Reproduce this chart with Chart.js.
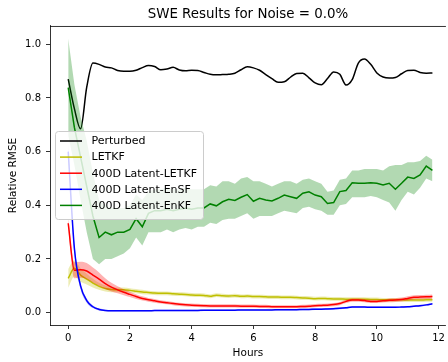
<!DOCTYPE html>
<html>
<head>
<meta charset="utf-8">
<script src="https://cdn.jsdelivr.net/npm/chart.js@4.4.1/dist/chart.umd.min.js"></script>
<style>
  html, body { margin: 0; padding: 0; background: #fff; overflow: hidden; }
  #wrap { width: 448px; height: 362px; }
</style>
</head>
<body>
<div id="wrap"><canvas id="chart"></canvas></div>
<script>
// time axis, one point every 0.2 hours
const hours = [0, 0.2, 0.4, 0.6, 0.8, 1, 1.2, 1.4, 1.6, 1.8,
  2, 2.2, 2.4, 2.6, 2.8, 3, 3.2, 3.4, 3.6, 3.8,
  4, 4.2, 4.4, 4.6, 4.8, 5, 5.2, 5.4, 5.6, 5.8,
  6, 6.2, 6.4, 6.6, 6.8, 7, 7.2, 7.4, 7.6, 7.8,
  8, 8.2, 8.4, 8.6, 8.8, 9, 9.2, 9.4, 9.6, 9.8,
  10, 10.2, 10.4, 10.6, 10.8, 11, 11.2, 11.4, 11.6, 11.8];

const xTicks = [0, 2, 4, 6, 8, 10, 12];
const yTicks = [0, 0.2, 0.4, 0.6, 0.8, 1.0];

const perturbed = [0.87, 0.76, 0.685, 0.84, 0.93, 0.925, 0.915, 0.912, 0.902, 0.899,
  0.899, 0.903, 0.913, 0.921, 0.917, 0.905, 0.908, 0.914, 0.904, 0.901,
  0.903, 0.902, 0.895, 0.888, 0.886, 0.887, 0.888, 0.892, 0.905, 0.916,
  0.912, 0.903, 0.887, 0.872, 0.858, 0.86, 0.877, 0.891, 0.892, 0.875,
  0.856, 0.849, 0.872, 0.897, 0.888, 0.848, 0.868, 0.93, 0.945, 0.925,
  0.893, 0.878, 0.874, 0.876, 0.89, 0.902, 0.903, 0.895, 0.892, 0.893];

const letkf = [0.128, 0.165, 0.14, 0.125, 0.11, 0.098, 0.09, 0.086, 0.085, 0.085,
  0.083, 0.08, 0.077, 0.075, 0.073, 0.072, 0.072, 0.07, 0.069, 0.068,
  0.066, 0.065, 0.064, 0.061, 0.065, 0.063, 0.062, 0.063, 0.061, 0.062,
  0.06, 0.06, 0.059, 0.058, 0.058, 0.057, 0.057, 0.056, 0.055, 0.054,
  0.052, 0.053, 0.052, 0.051, 0.051, 0.05, 0.05, 0.05, 0.05, 0.049,
  0.049, 0.048, 0.048, 0.048, 0.048, 0.047, 0.047, 0.047, 0.048, 0.048];
const letkfSpread = [0.035, 0.03, 0.025, 0.02, 0.016, 0.013, 0.011, 0.01, 0.009, 0.009,
  0.008, 0.008, 0.008, 0.007, 0.007, 0.007, 0.007, 0.007, 0.007, 0.007,
  0.007, 0.007, 0.007, 0.007, 0.007, 0.007, 0.007, 0.007, 0.007, 0.007,
  0.007, 0.007, 0.007, 0.007, 0.007, 0.007, 0.007, 0.007, 0.007, 0.007,
  0.007, 0.007, 0.007, 0.007, 0.007, 0.007, 0.007, 0.007, 0.007, 0.007,
  0.007, 0.007, 0.007, 0.007, 0.007, 0.007, 0.007, 0.007, 0.007, 0.007];

const latentLetkf = [0.333, 0.158, 0.16, 0.155, 0.14, 0.125, 0.108, 0.095, 0.085, 0.076,
  0.068, 0.06, 0.053, 0.048, 0.044, 0.04, 0.037, 0.034, 0.031, 0.029,
  0.028, 0.027, 0.026, 0.025, 0.025, 0.025, 0.025, 0.025, 0.024, 0.024,
  0.024, 0.023, 0.023, 0.022, 0.022, 0.022, 0.022, 0.022, 0.023, 0.024,
  0.026, 0.027, 0.028, 0.03, 0.034, 0.042, 0.047, 0.047, 0.045, 0.042,
  0.042, 0.044, 0.046, 0.047, 0.049, 0.053, 0.057, 0.058, 0.059, 0.06];
const latentLetkfSpread = [0.02, 0.03, 0.03, 0.03, 0.028, 0.025, 0.02, 0.016, 0.013, 0.011,
  0.01, 0.009, 0.008, 0.007, 0.007, 0.006, 0.006, 0.006, 0.006, 0.006,
  0.006, 0.006, 0.006, 0.006, 0.006, 0.006, 0.006, 0.006, 0.006, 0.006,
  0.006, 0.006, 0.006, 0.006, 0.006, 0.006, 0.006, 0.006, 0.006, 0.006,
  0.006, 0.006, 0.006, 0.006, 0.006, 0.006, 0.006, 0.006, 0.006, 0.006,
  0.006, 0.006, 0.007, 0.007, 0.007, 0.008, 0.008, 0.008, 0.008, 0.008];

const latentEnsf = [0.6, 0.24, 0.1, 0.045, 0.022, 0.012, 0.008, 0.007, 0.007, 0.007,
  0.007, 0.007, 0.007, 0.007, 0.008, 0.008, 0.008, 0.008, 0.008, 0.008,
  0.008, 0.008, 0.009, 0.009, 0.009, 0.009, 0.009, 0.009, 0.01, 0.01,
  0.01, 0.01, 0.01, 0.01, 0.011, 0.011, 0.011, 0.011, 0.012, 0.012,
  0.013, 0.013, 0.014, 0.015, 0.016, 0.018, 0.021, 0.021, 0.021, 0.02,
  0.02, 0.02, 0.02, 0.02, 0.021, 0.022, 0.024, 0.026, 0.029, 0.033];
const latentEnsfSpread = [0.03, 0.02, 0.012, 0.008, 0.005, 0.004, 0.003, 0.003, 0.003, 0.003,
  0.003, 0.003, 0.003, 0.003, 0.003, 0.003, 0.003, 0.003, 0.003, 0.003,
  0.003, 0.003, 0.003, 0.003, 0.003, 0.003, 0.003, 0.003, 0.003, 0.003,
  0.003, 0.003, 0.003, 0.003, 0.003, 0.003, 0.003, 0.003, 0.003, 0.003,
  0.003, 0.003, 0.003, 0.003, 0.003, 0.003, 0.003, 0.003, 0.003, 0.003,
  0.003, 0.003, 0.003, 0.003, 0.003, 0.003, 0.003, 0.003, 0.003, 0.003];

const latentEnkf = [0.838, 0.69, 0.58, 0.47, 0.36, 0.28, 0.30, 0.29, 0.30, 0.30,
  0.31, 0.35, 0.32, 0.37, 0.38, 0.38, 0.385, 0.38, 0.385, 0.39,
  0.385, 0.39, 0.39, 0.405, 0.398, 0.413, 0.422, 0.418, 0.43, 0.44,
  0.415, 0.426, 0.42, 0.416, 0.426, 0.438, 0.432, 0.426, 0.445, 0.45,
  0.438, 0.432, 0.407, 0.41, 0.451, 0.455, 0.484, 0.482, 0.482, 0.484,
  0.482, 0.476, 0.482, 0.46, 0.482, 0.505, 0.5, 0.513, 0.546, 0.53];
const latentEnkfLow = [0.66, 0.55, 0.42, 0.30, 0.20, 0.18, 0.20, 0.20, 0.21, 0.22,
  0.24, 0.28, 0.25, 0.30, 0.30, 0.30, 0.31, 0.30, 0.31, 0.315,
  0.31, 0.32, 0.32, 0.335, 0.33, 0.345, 0.35, 0.35, 0.36, 0.37,
  0.35, 0.36, 0.36, 0.36, 0.37, 0.38, 0.375, 0.37, 0.39, 0.395,
  0.385, 0.38, 0.365, 0.365, 0.40, 0.405, 0.43, 0.43, 0.43, 0.435,
  0.43, 0.42, 0.41, 0.38, 0.42, 0.45, 0.44, 0.465, 0.50, 0.49];
const latentEnkfHigh = [1.02, 0.85, 0.73, 0.64, 0.52, 0.42, 0.40, 0.39, 0.39, 0.39,
  0.40, 0.44, 0.42, 0.45, 0.46, 0.46, 0.465, 0.46, 0.46, 0.465,
  0.46, 0.46, 0.46, 0.475, 0.47, 0.49, 0.49, 0.48, 0.50, 0.505,
  0.49, 0.49, 0.48, 0.47, 0.48, 0.49, 0.49, 0.48, 0.495, 0.50,
  0.49, 0.48, 0.45, 0.455, 0.495, 0.50, 0.53, 0.53, 0.535, 0.535,
  0.535, 0.53, 0.545, 0.55, 0.55, 0.56, 0.56, 0.565, 0.585, 0.57];


// turn a value list into {x, y} points on the hours axis
function toPoints(values) {
  return values.map((v, i) => ({ x: hours[i], y: v }));
}

// a shaded band (lower edge, upper edge filled to it) followed by the mean line
function bandAndLine(label, color, shade, values, low, high, order, smooth) {
  const common = {
    pointRadius: 0,
    cubicInterpolationMode: smooth ? "monotone" : "default",
    tension: 0
  };
  return [
    { ...common, data: toPoints(low), borderColor: "transparent", borderWidth: 0, fill: false, order: order + 1 },
    { ...common, data: toPoints(high), borderColor: "transparent", borderWidth: 0, fill: "-1", backgroundColor: shade, order: order + 1 },
    { ...common, label: label, data: toPoints(values), borderColor: color, borderWidth: 1.5, fill: false, order: order }
  ];
}

const datasets = [
  {
    label: "Perturbed",
    data: toPoints(perturbed),
    borderColor: "#000000",
    borderWidth: 1.5,
    pointRadius: 0,
    cubicInterpolationMode: "monotone",
    fill: false,
    order: 60
  },
  ...bandAndLine("LETKF", "#bfbf00", "rgba(191,191,0,0.3)", letkf,
    letkf.map((v, i) => v - letkfSpread[i]), letkf.map((v, i) => v + letkfSpread[i]), 40, true),
  ...bandAndLine("400D Latent-LETKF", "#ff0000", "rgba(255,0,0,0.3)", latentLetkf,
    latentLetkf.map((v, i) => v - latentLetkfSpread[i]), latentLetkf.map((v, i) => v + latentLetkfSpread[i]), 30, true),
  ...bandAndLine("400D Latent-EnSF", "#0000ff", "rgba(0,0,255,0.3)", latentEnsf,
    latentEnsf.map((v, i) => v - latentEnsfSpread[i]), latentEnsf.map((v, i) => v + latentEnsfSpread[i]), 20, true),
  ...bandAndLine("400D Latent-EnKF", "#008000", "rgba(0,128,0,0.3)", latentEnkf,
    latentEnkfLow, latentEnkfHigh, 10, false)
];


// matplotlib style legend box and top spine, drawn over the plot
const frameAndLegend = {
  id: "frameAndLegend",
  afterDraw(chart) {
    const ctx = chart.ctx;
    const area = chart.chartArea;
    ctx.save();

    ctx.strokeStyle = "#000";
    ctx.lineWidth = 0.8;
    ctx.beginPath();
    ctx.moveTo(area.left, area.top + 0.5);
    ctx.lineTo(area.right, area.top + 0.5);
    ctx.stroke();

    const items = chart.data.datasets.filter((d) => d.label);
    ctx.beginPath();
    ctx.roundRect(55.5, 131.5, 148, 88, 3);
    ctx.fillStyle = "rgba(255,255,255,0.8)";
    ctx.fill();
    ctx.strokeStyle = "#cccccc";
    ctx.lineWidth = 1;
    ctx.stroke();

    ctx.font = "11px 'DejaVu Sans'";
    ctx.textBaseline = "middle";
    ctx.textAlign = "left";
    items.forEach((item, i) => {
      const cy = 141 + i * 16.1;
      ctx.strokeStyle = item.borderColor;
      ctx.lineWidth = 1.5;
      ctx.beginPath();
      ctx.moveTo(60, cy);
      ctx.lineTo(82, cy);
      ctx.stroke();
      ctx.fillStyle = "#000";
      ctx.fillText(item.label, 91.5, cy + 0.5);
    });
    ctx.restore();
  }
};

Chart.defaults.font.family = "'DejaVu Sans'";
Chart.defaults.font.size = 10;
Chart.defaults.color = "#000";

new Chart(document.getElementById("chart"), {
  type: "line",
  data: { datasets: datasets },
  plugins: [frameAndLegend],
  options: {
    responsive: true,
    maintainAspectRatio: false,
    animation: false,
    devicePixelRatio: 1,
    layout: { padding: 0 },
    plugins: {
      legend: { display: false },
      tooltip: { enabled: false },
      title: {
        display: true,
        text: "SWE Results for Noise = 0.0%",
        fullSize: false,
        color: "#000",
        font: { size: 13.4, weight: "normal" },
        padding: { top: 6, bottom: 3.9 }
      }
    },
    scales: {
      x: {
        type: "linear",
        min: -0.59,
        max: 12.237,
        afterBuildTicks: (scale) => { scale.ticks = xTicks.map((v) => ({ value: v })); },
        afterFit: (scale) => { scale.height = 37; },
        ticks: { padding: 3, color: "#000", callback: (v) => String(v) },
        grid: { drawOnChartArea: false, tickLength: 4, color: "#000", lineWidth: 0.8 },
        border: { display: true, color: "#000", width: 0.8 },
        title: { display: true, text: "Hours", color: "#000", font: { size: 10.5 }, padding: { top: 0, bottom: 2.4 } }
      },
      y: {
        min: -0.046,
        max: 1.068,
        afterBuildTicks: (scale) => { scale.ticks = yTicks.map((v) => ({ value: v })); },
        afterFit: (scale) => { scale.width = 50; },
        ticks: { padding: 5, color: "#000", callback: (v) => v.toFixed(1) },
        grid: { drawOnChartArea: false, tickLength: 4, color: "#000", lineWidth: 0.8 },
        border: { display: true, color: "#000", width: 0.8 },
        title: { display: true, text: "Relative RMSE", color: "#000", font: { size: 10.5 }, padding: { top: 7, bottom: 0 } }
      }
    }
  }
});
</script>
</body>
</html>
